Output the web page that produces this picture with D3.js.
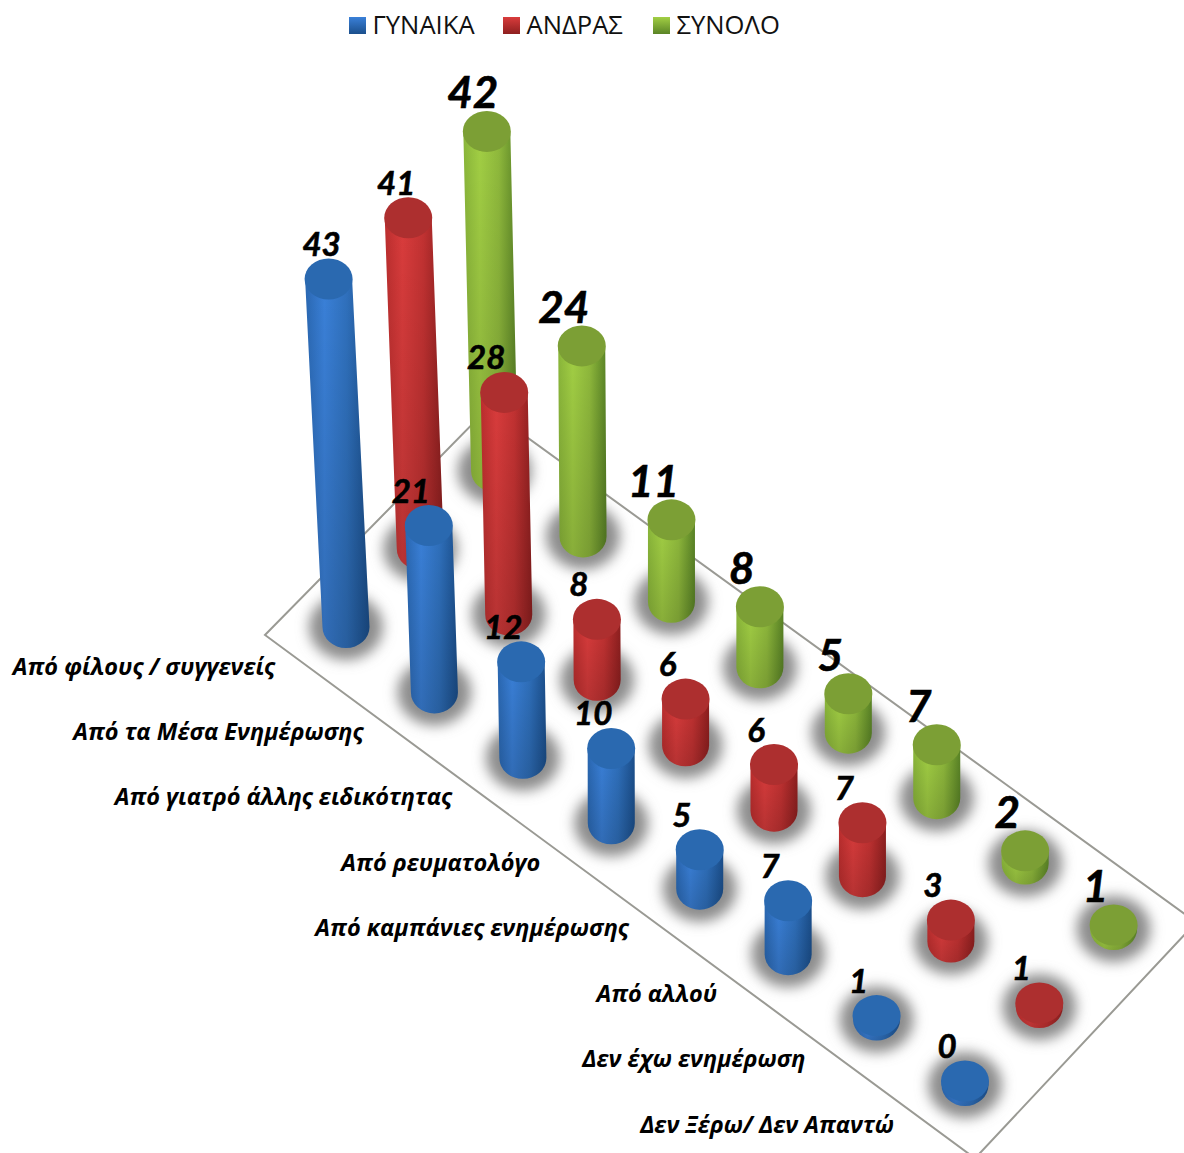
<!DOCTYPE html>
<html><head><meta charset="utf-8">
<style>html,body{margin:0;padding:0;background:#fff;overflow:hidden}svg{display:block}</style>
<script src="https://cdn.jsdelivr.net/npm/d3@7"></script></head><body>
<script>
const categories=["Από φίλους / συγγενείς","Από τα Μέσα Ενημέρωσης","Από γιατρό άλλης ειδικότητας","Από ρευματολόγο","Από καμπάνιες ενημέρωσης","Από αλλού","Δεν έχω ενημέρωση","Δεν Ξέρω/ Δεν Απαντώ"];
const seriesNames=["ΓΥΝΑΙΚΑ","ΑΝΔΡΑΣ","ΣΥΝΟΛΟ"];
const women=[43,21,12,10,5,7,1,0];
const men=[41,28,8,6,6,7,3,1];
const total=[42,24,11,8,5,7,2,1];
const seriesValues=[women,men,total];
const palette=[
 {edgeL:"#2a68b2",hi:"#3a80d8",mid:"#2f70bc",edgeR:"#1b4f8c",top:"#2a69b0"},
 {edgeL:"#bb2e2e",hi:"#d93c3c",mid:"#c23232",edgeR:"#8e1f1f",top:"#ad2f2f"},
 {edgeL:"#8ab63a",hi:"#a2cf44",mid:"#8fb93c",edgeR:"#5a8426",top:"#7c9f35"}];
const legendX=[349,503,653];
const floorCat=[-0.487,-0.44,7.505,7.53], floorSer=[-0.511,2.43,2.51,-0.496];

const W=1184,H=1153;
const svg=d3.select("body").append("svg").attr("width",W).attr("height",H);
const defs=svg.append("defs");
defs.append("filter").attr("id","blur").attr("x","-60%").attr("y","-60%").attr("width","220%").attr("height","220%")
  .append("feGaussianBlur").attr("stdDeviation",6.5);
palette.forEach((p,i)=>{
  const g=defs.append("linearGradient").attr("id","body"+i);
  [[0,p.edgeL],[.3,p.hi],[.65,p.mid],[1,p.edgeR]].forEach(([o,c])=>g.append("stop").attr("offset",o).attr("stop-color",c));
  const l=defs.append("linearGradient").attr("id","leg"+i).attr("x2",0).attr("y2",1);
  [[0,p.hi],[1,p.edgeR]].forEach(([o,c])=>l.append("stop").attr("offset",o).attr("stop-color",c));
});
const sh=defs.append("linearGradient").attr("id","shade").attr("x2",0).attr("y2",1);
sh.append("stop").attr("offset",0).attr("stop-color","#000").attr("stop-opacity",0);
sh.append("stop").attr("offset",1).attr("stop-color","#000").attr("stop-opacity",.16);

// oblique projection: category axis and series axis on the floor plane
const catX=d3.scaleLinear().domain([0,7]).range([346,965]);
const catY=d3.scaleLinear().domain([0,7]).range([627,1085]);
const serX=d3.scaleLinear().domain([0,2]).range([0,148.6]);
const serY=d3.scaleLinear().domain([0,2]).range([0,-156]);
const px=(c,s)=>catX(c)+serX(s), py=(c,s)=>catY(c)+serY(s);
const height=d3.scaleLinear().domain([1,5,11,12,28,43]).range([4,39,82,96,222,348]).clamp(true);
const lean=d3.scaleLinear().domain([346,620]).range([.05,0]).clamp(true);
const labelDx=d3.scaleLinear().domain([40,41,42,43]).range([-18,-12,-14,-7]).clamp(true);
const rx=23.5, ryTop=20.5, ryBase=21;

const marks=[];
[2,1,0].forEach(s=>categories.forEach((name,c)=>{
  const v=seriesValues[s][c], bx=px(c,s), by=py(c,s), h=height(v);
  marks.push({s,c,v,bx,by,tx:bx-h*lean(bx),ty:by-h});
}));

// floor
svg.append("path").attr("d",d3.line()(floorCat.map((c,i)=>[px(c,floorSer[i]),py(c,floorSer[i])]))+"Z")
  .attr("fill","#fff").attr("stroke","#9a9a94").attr("stroke-width",2);

// shadows
svg.append("g").selectAll("ellipse").data(marks).join("ellipse")
  .attr("cx",d=>d.bx).attr("cy",d=>d.by).attr("rx",37).attr("ry",33)
  .attr("fill","#8c8c8c").attr("filter","url(#blur)");

// cylinders
const bodyPath=d=>`M${d.tx-rx},${d.ty}L${d.bx-rx},${d.by}A${rx},${ryBase} 0 0 0 ${d.bx+rx},${d.by}L${d.tx+rx},${d.ty}Z`;
const cyl=svg.append("g").selectAll("g").data(marks).join("g");
cyl.append("path").attr("d",bodyPath).attr("fill",d=>`url(#body${d.s})`);
cyl.append("path").attr("d",bodyPath).attr("fill","url(#shade)");
cyl.append("ellipse").attr("cx",d=>d.tx).attr("cy",d=>d.ty).attr("rx",rx+.5).attr("ry",ryTop)
  .attr("fill",d=>palette[d.s].top);

// value labels
const numFont="Lato, 'Open Sans', sans-serif";
svg.append("g").selectAll("text").data(marks).join("text")
  .attr("x",d=>d.tx+labelDx(d.v)).attr("y",d=>d.ty-23)
  .attr("text-anchor","middle").attr("font-family",numFont).attr("font-weight",700).attr("font-style","italic")
  .attr("font-size",d=>d.s===2?44:33).attr("fill","#000").attr("stroke","#000").attr("stroke-width",.6).text(d=>d.v);

// category labels
svg.append("g").selectAll("text").data(categories).join("text")
  .attr("x",(d,i)=>catX(i)-71).attr("y",(d,i)=>catY(i)+47.5)
  .attr("text-anchor","end").attr("font-family","'Open Sans', sans-serif").attr("font-weight",700).attr("font-style","italic")
  .attr("font-size",23.5).attr("fill","#000").text(d=>d);

// legend
const leg=svg.append("g").selectAll("g").data(seriesNames).join("g");
leg.append("rect").attr("x",(d,i)=>legendX[i]).attr("y",17).attr("width",17).attr("height",17).attr("fill",(d,i)=>`url(#leg${i})`);
leg.append("text").attr("x",(d,i)=>legendX[i]+23.5).attr("y",34).attr("font-family","'Open Sans', sans-serif")
  .attr("font-size",25.6).attr("fill","#111").text(d=>d);
</script></body></html>
